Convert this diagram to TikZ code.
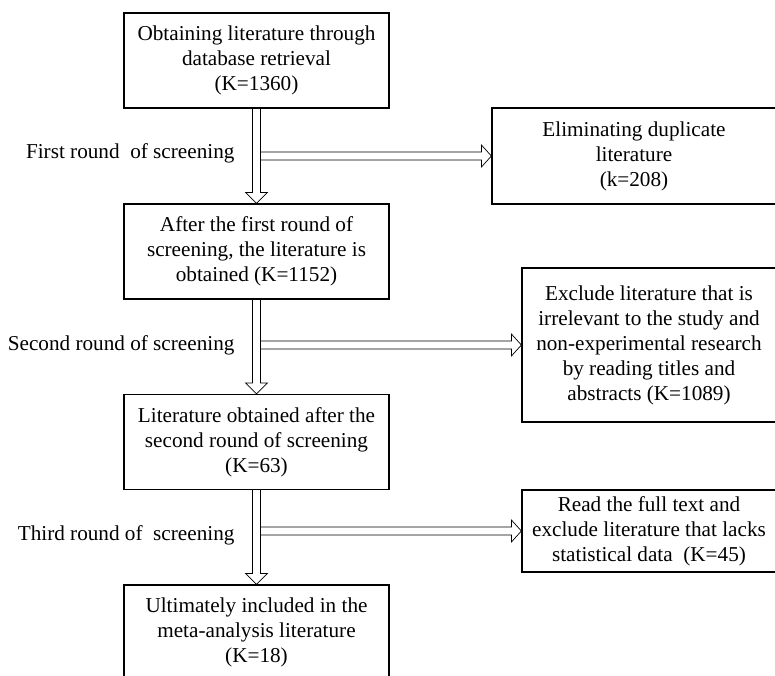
\documentclass[tikz,border=0pt]{standalone}
\usepackage{fontspec}
\setmainfont{Liberation Serif}
\usetikzlibrary{calc}

\tikzset{
  stepbox/.style={draw,line width=1.2pt,align=center,inner sep=2pt,
    font=\fontsize{21.2}{25}\selectfont},
  leftbox/.style={stepbox,minimum width=265pt,minimum height=95pt},
  flowline/.style={line width=0.7pt,line join=miter},
  roundlabel/.style={anchor=east,font=\fontsize{21.2}{25}\selectfont}
}

% hollow arrow downwards, from box #1 to box #2
\newcommand{\vflow}[2]{%
  \draw[flowline] ($(#1.south)+(-4,0)$) -- ($(#2.north)+(-4,11)$) -- ($(#2.north)+(-11,11)$) -- (#2.north)
    -- ($(#2.north)+(11,11)$) -- ($(#2.north)+(4,11)$) -- ($(#1.south)+(4,0)$);}
% hollow arrow to the right, from the shaft under box #1 to box #2
\newcommand{\hflow}[2]{%
  \draw[flowline] let \p1=($(#1.south)+(4,0)$), \p2=(#2.west) in
    (\x1,\y2+4) -- (\x2-10,\y2+4) -- (\x2-10,\y2+11) -- (\p2) -- (\x2-10,\y2-11) -- (\x2-10,\y2-4) -- (\x1,\y2-4);}

\begin{document}
\begin{tikzpicture}[x=1pt,y=1pt]
    \useasboundingbox (0,0) rectangle (775,-675);
    % main column
    \node[leftbox] (b1) at (256.5,-60.5) {Obtaining literature through\\database retrieval\\(K=1360)};
    \node[leftbox] (b2) at (256.5,-251.5) {After the first round of\\screening, the literature is\\obtained (K=1152)};
    \node[leftbox] (b3) at (256.5,-442) {Literature obtained after the\\second round of screening\\(K=63)};
    \node[leftbox] (b4) at (256.5,-632.5) {Ultimately included in the\\meta-analysis literature\\(K=18)};
    % excluded literature
    \node[stepbox,minimum width=284pt,minimum height=96pt] (r1) at (634,-156) {Eliminating duplicate\\literature\\(k=208)};
    \node[stepbox,minimum width=254pt,minimum height=154pt] (r2) at (649,-345) {Exclude literature that is\\irrelevant to the study and\\non-experimental research\\by reading titles and\\abstracts (K=1089)};
    \node[stepbox,minimum width=254pt,minimum height=82pt] (r3) at (649,-531) {Read the full text and\\exclude literature that lacks\\statistical data\ \ (K=45)};
    % arrows
    \vflow{b1}{b2}
    \vflow{b2}{b3}
    \vflow{b3}{b4}
    \hflow{b1}{r1}
    \hflow{b2}{r2}
    \hflow{b3}{r3}
    % labels
    \node[roundlabel] (l1) at (238,-153) {First round\ \ of screening};
    \node[roundlabel] (l2) at (238,-345) {Second round of screening};
    \node[roundlabel] (l3) at (238,-535) {Third round of\ \ screening};
\end{tikzpicture}
\end{document}
